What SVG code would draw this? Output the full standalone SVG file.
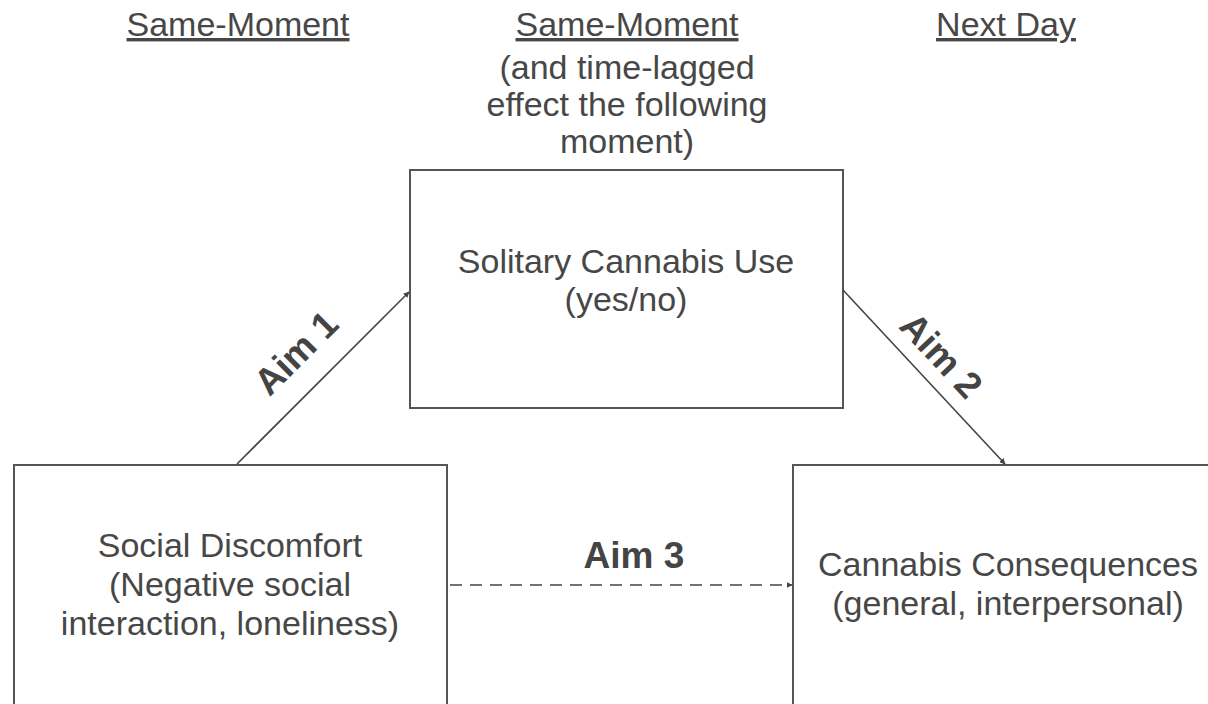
<svg xmlns="http://www.w3.org/2000/svg" width="1208" height="704" viewBox="0 0 1208 704">
  <style>
    .bg { fill: #ffffff; }
    .box { fill: #ffffff; stroke: #555555; stroke-width: 2; }
    .txt { font-family: "Liberation Sans", Arial, sans-serif; font-size: 34px; fill: #474747; text-anchor: middle; }
    .hdr { font-family: "Liberation Sans", Arial, sans-serif; font-size: 34px; fill: #474747; text-anchor: middle; }
    .ul { text-decoration: underline; }
    .aim { font-family: "Liberation Sans", Arial, sans-serif; font-size: 37px; font-weight: bold; fill: #444444; text-anchor: middle; }
    .conn { stroke: #444444; stroke-width: 1.6; fill: none; }
    .dash { stroke-dasharray: 12 8; }
  </style>
  <defs>
    <marker id="arrow" viewBox="0 0 10 10" refX="9" refY="5" markerWidth="6" markerHeight="6" orient="auto" markerUnits="userSpaceOnUse">
      <path d="M0,0 L10,5 L0,10 z" fill="#444444"/>
    </marker>
  </defs>
  <rect class="bg" x="0" y="0" width="1208" height="704"/>

  <g id="headers">
    <text class="hdr ul" x="238" y="36">Same-Moment</text>
    <text class="hdr ul" x="627" y="36">Same-Moment</text>
    <text class="hdr" x="627" y="79">(and time-lagged</text>
    <text class="hdr" x="627" y="116">effect the following</text>
    <text class="hdr" x="627" y="153">moment)</text>
    <text class="hdr ul" x="1006" y="36">Next Day</text>
  </g>

  <g id="node-solitary">
    <rect class="box" x="410" y="170" width="433" height="238"/>
    <text class="txt" x="626" y="273">Solitary Cannabis Use</text>
    <text class="txt" x="626" y="311">(yes/no)</text>
  </g>

  <g id="node-social">
    <rect class="box" x="14" y="465" width="433" height="260"/>
    <text class="txt" x="230" y="557">Social Discomfort</text>
    <text class="txt" x="230" y="596">(Negative social</text>
    <text class="txt" x="230" y="635">interaction, loneliness)</text>
  </g>

  <g id="node-consequences">
    <rect class="box" x="793" y="465" width="433" height="260"/>
    <text class="txt" x="1008" y="576">Cannabis Consequences</text>
    <text class="txt" x="1008" y="615">(general, interpersonal)</text>
  </g>

  <g id="connectors">
    <line class="conn" x1="237" y1="464" x2="409" y2="292" marker-end="url(#arrow)"/>
    <line class="conn" x1="843" y1="290" x2="1005" y2="464" marker-end="url(#arrow)"/>
    <line class="conn dash" x1="450" y1="585" x2="792" y2="585" marker-end="url(#arrow)"/>
    <text class="aim" transform="translate(305,362) rotate(-45)" x="0" y="0">Aim 1</text>
    <text class="aim" transform="translate(932,364) rotate(47)" x="0" y="0">Aim 2</text>
    <text class="aim" x="634" y="568">Aim 3</text>
  </g>
</svg>
